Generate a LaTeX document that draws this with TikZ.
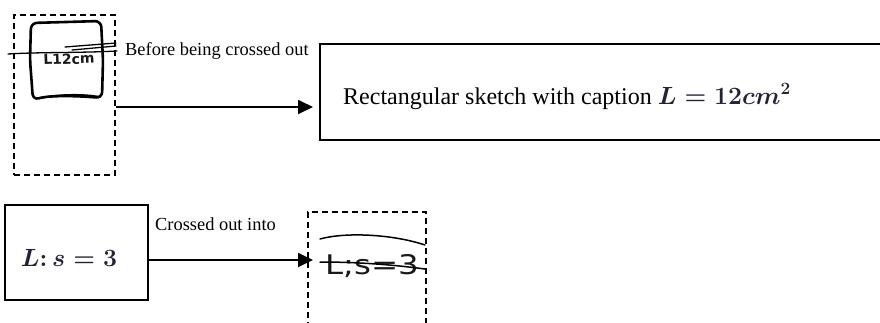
\documentclass[tikz,border=0pt]{standalone}
\usepackage{fontspec}
\setmainfont{Liberation Serif}
\newfontfamily\handfont{DejaVu Sans}
\usetikzlibrary{arrows.meta}
\definecolor{mathc}{RGB}{38,32,58}
\begin{document}
\begin{tikzpicture}[x=1pt,y=-1pt,
  solidbox/.style={draw, line width=1.3pt, rectangle, inner sep=0pt},
  dashbox/.style={draw, line width=1.3pt, dash pattern=on 6pt off 4pt, rectangle, inner sep=0pt},
  arr/.style={line width=1.8pt, -{Triangle[length=15pt,width=14pt]}},
  lbl/.style={font=\fontsize{18.4}{20}\selectfont, inner sep=0pt, anchor=base west},
  pen/.style={line width=2.6pt, line cap=round, line join=round},
  strike/.style={line width=1.3pt, line cap=round},
  hand/.style={inner sep=0pt, text=black!90},
]
\useasboundingbox (0,0) rectangle (880,322);

% top-left dashed frame with sketch
\node[dashbox, minimum width=101pt, minimum height=160pt] (A) at (64.5,95) {};
\draw[pen, rounded corners=6pt] (31,23) -- (101,21) -- (103,60) -- (102,98)
   .. controls (80,96) and (50,95) .. (33,100) -- (30,60) -- cycle;
\draw[line width=1.8pt, line cap=round] (40,98) .. controls (60,94) and (85,94) .. (100,97);
\node[hand, font=\handfont\bfseries\fontsize{14}{14}\selectfont, rotate=2] (hw1) at (69,59) {L12cm};
\draw[strike] (8,54) .. controls (40,52) and (80,53) .. (117,51);
\draw[strike] (65,47) -- (116,43);
\draw[strike] (72,50) -- (116,46);

\node[lbl] (l1) at (125,55) {Before being crossed out};

% right box
\node[solidbox, minimum width=564pt, minimum height=96pt] (B) at (602,92) {};
\node[anchor=base west, font=\fontsize{24}{26}\selectfont, inner sep=0pt] (Bt) at (343,104)
  {Rectangular sketch with caption \textcolor{mathc}{\boldmath$L = 12cm^2$}};

\coordinate (t1) at (313,107);
\draw[arr] (t1 -| A.east) -- (t1);

% lower-left box
\node[solidbox, minimum width=143pt, minimum height=95pt] (C) at (76.5,252.5) {};
\node[font=\fontsize{24}{26}\selectfont\boldmath, text=mathc, inner sep=0pt] (Cm) at (69,258) {$L{:}\,s = 3$};

\node[lbl] (l2) at (155,230) {Crossed out into};
\coordinate (t2) at (313,260);
\draw[arr] (t2 -| C.east) -- (t2);

% lower-right dashed frame with crossed-out handwriting
\node[dashbox, minimum width=118pt, minimum height=124pt] (D) at (367,274) {};
\node[hand, font=\handfont\fontsize{27}{27}\selectfont, xscale=1.2] (hw2) at (372,266) {L;s=3};
\draw[strike, line width=1.5pt] (320,239) .. controls (345,232) and (392,234) .. (425,245);
\draw[strike, line width=1.5pt] (320,262) .. controls (360,262) and (395,265) .. (425,269);
\end{tikzpicture}
\end{document}
